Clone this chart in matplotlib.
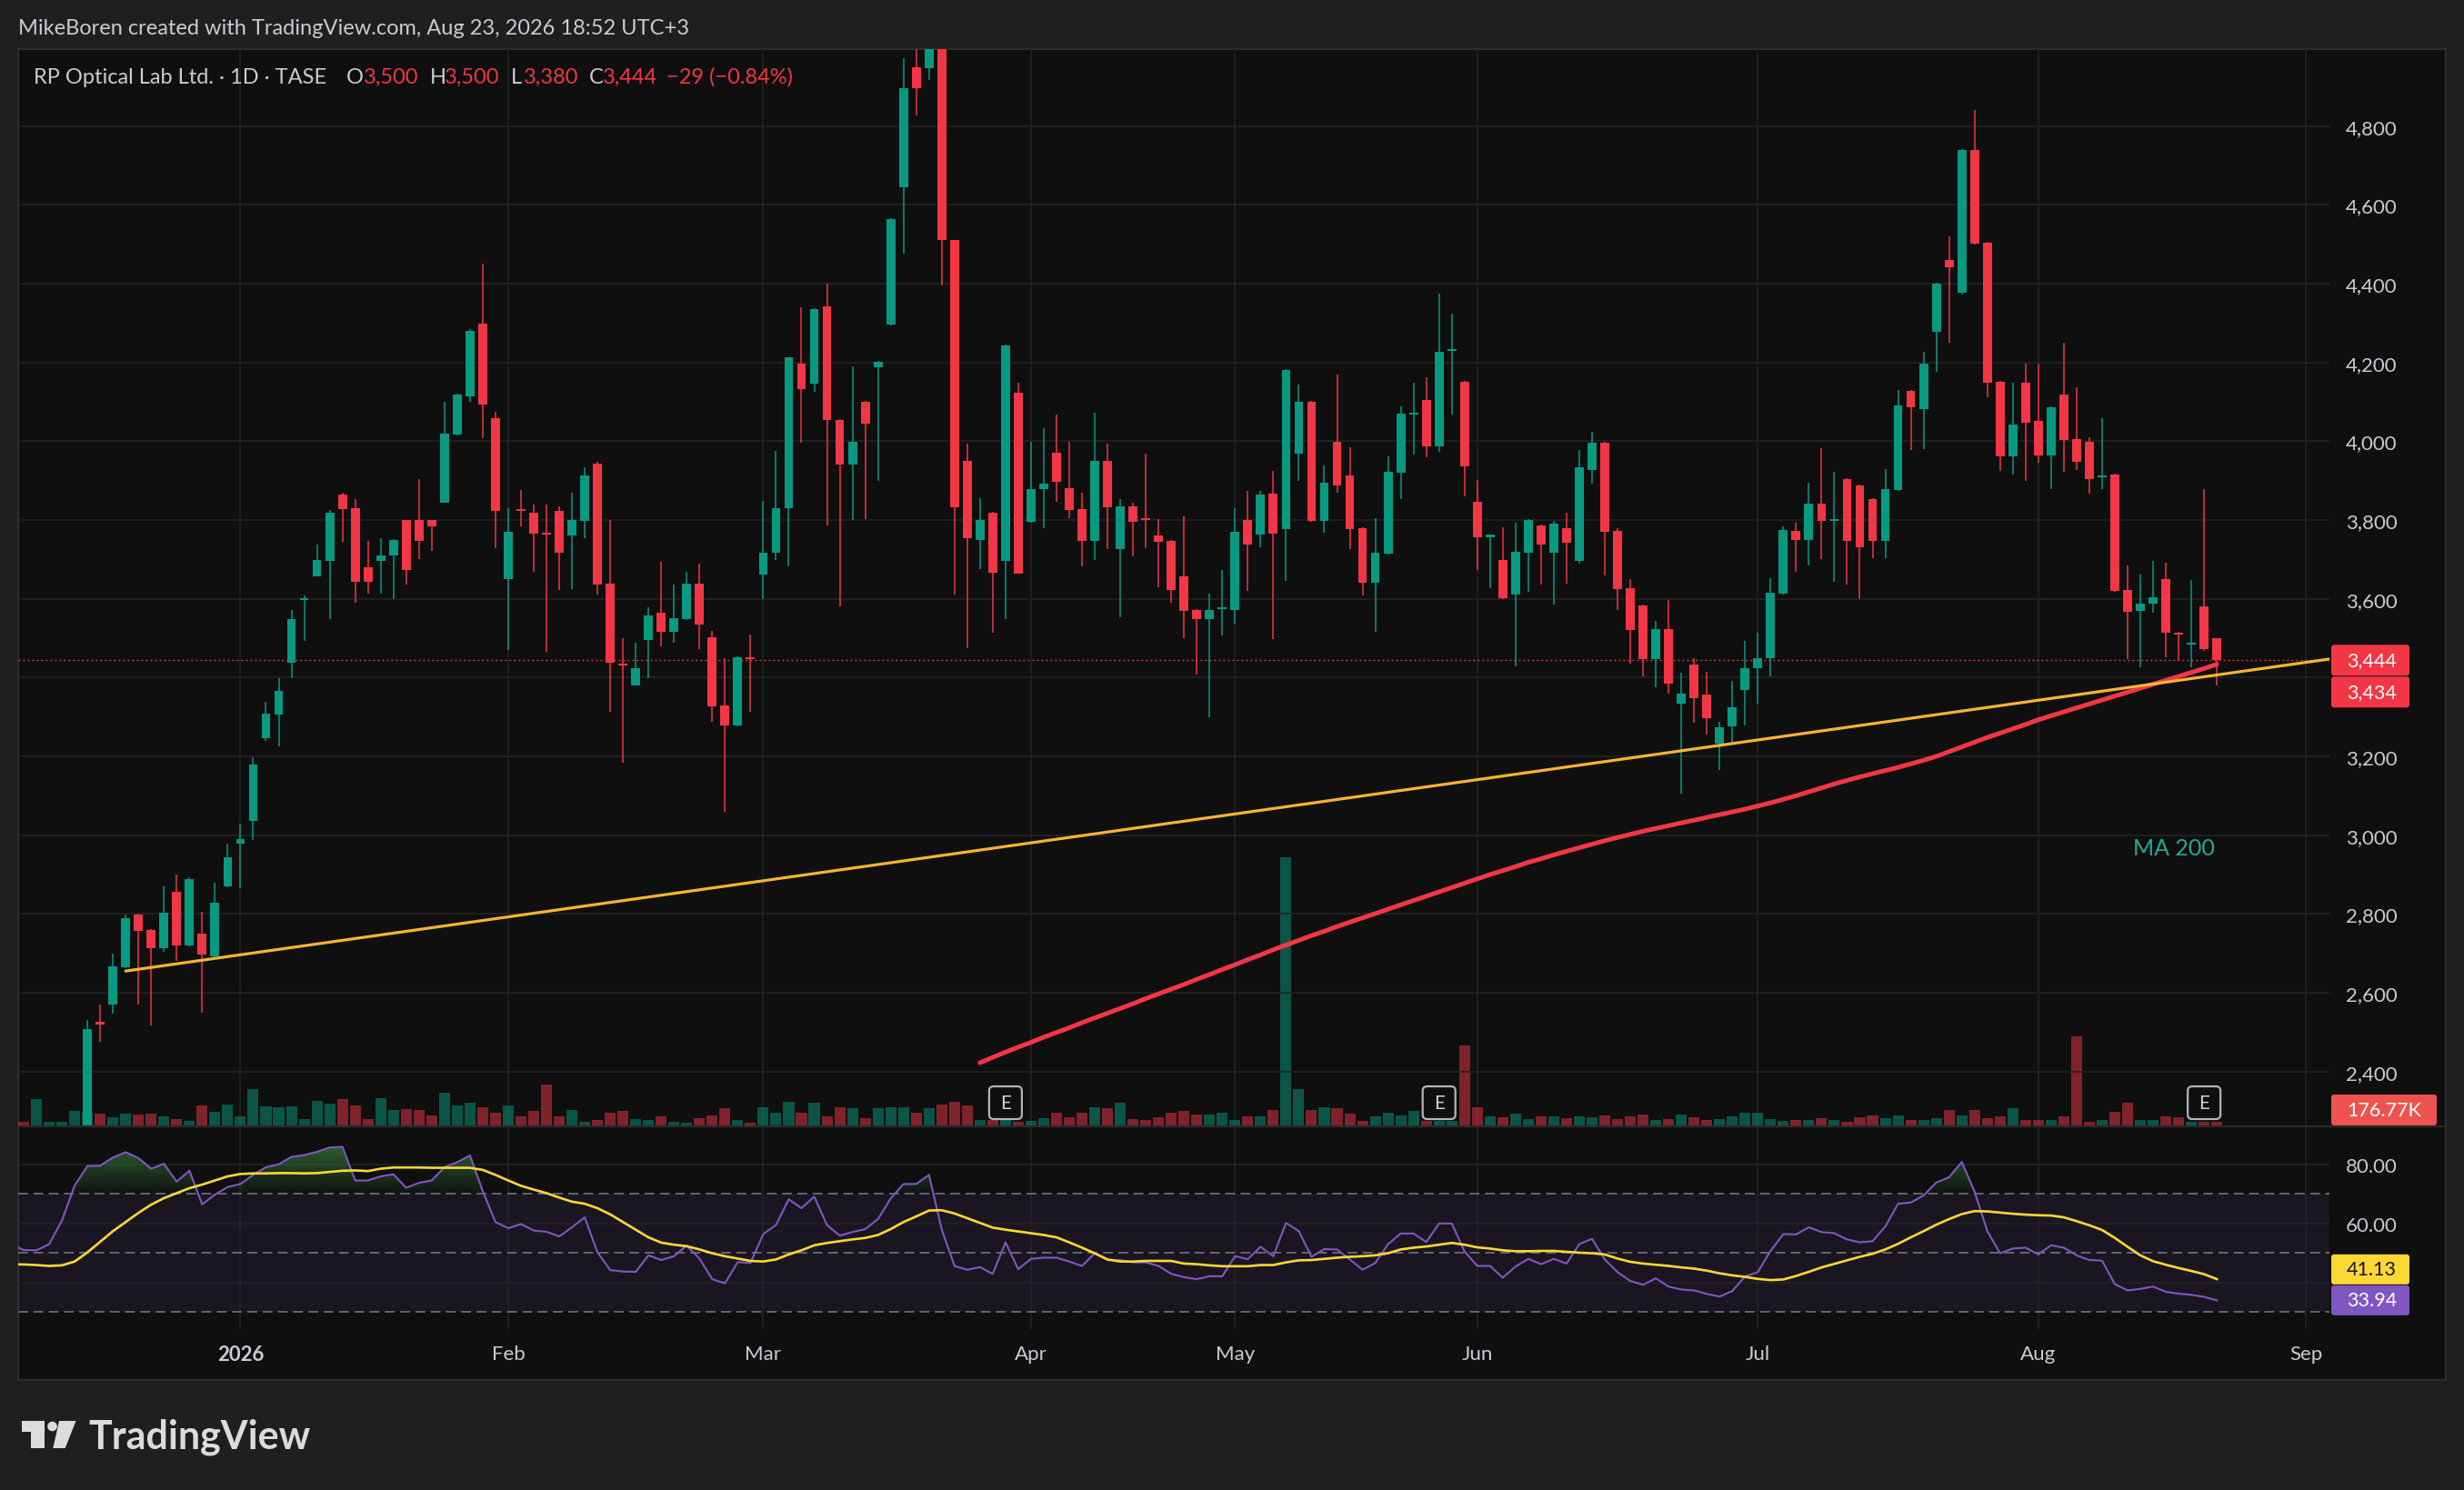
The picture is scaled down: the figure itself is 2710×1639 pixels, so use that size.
"""RP Optical Lab Ltd. daily chart (TradingView dark snapshot): candles, volume, MA 200, trendline, RSI."""

from __future__ import annotations

import matplotlib

matplotlib.use("Agg")
import matplotlib.pyplot as plt
import numpy as np
from matplotlib.colors import to_rgb
from matplotlib.patches import Circle, FancyBboxPatch, Polygon, Rectangle
from matplotlib.path import Path

W, H, DPI = 2710, 1640, 100

# ---- data; bar 0 is the first visible candle (late Dec 2025) ----
candle_open = [
    2240, 2524, 2570, 2665, 2799, 2760, 2712, 2857, 2720, 2751,
    2693, 2869, 2978, 3035, 3247, 3305, 3438, 3597, 3658, 3697,
    3864, 3829, 3679, 3697, 3709, 3799, 3799, 3799, 3845, 4017,
    4115, 4298, 4058, 3649, 3826, 3818, 3765, 3824, 3761, 3797,
    3944, 3639, 3435, 3381, 3496, 3565, 3517, 3548, 3639, 3503,
    3330, 3279, 3450, 3661, 3717, 3830, 4198, 4146, 4343, 4055,
    3940, 4101, 4188, 4296, 4645, 4950, 4946, 5020, 4510, 3951,
    3749, 3818, 3696, 4123, 3796, 3878, 3970, 3881, 3827, 3747,
    3951, 3726, 3834, 3803, 3761, 3747, 3656, 3572, 3548, 3574,
    3572, 3801, 3763, 3867, 3776, 3968, 4101, 3797, 3998, 3912,
    3780, 3640, 3714, 3919, 4068, 4104, 3987, 4230, 4151, 3846,
    3757, 3698, 3611, 3717, 3787, 3717, 3780, 3696, 3926, 3996,
    3773, 3626, 3583, 3447, 3524, 3334, 3433, 3358, 3232, 3276,
    3368, 3424, 3449, 3613, 3773, 3749, 3841, 3798, 3904, 3888,
    3853, 3747, 3876, 4127, 4082, 4277, 4460, 4376, 4739, 4504,
    4151, 3961, 4148, 4052, 3965, 4118, 4005, 3998, 3909, 3916,
    3623, 3569, 3588, 3651, 3515, 3484, 3581, 3500,
]
candle_high = [
    2531, 2569, 2700, 2799, 2800, 2762, 2870, 2901, 2893, 2806,
    2879, 2979, 3029, 3198, 3339, 3399, 3572, 3608, 3738, 3826,
    3870, 3854, 3746, 3754, 3751, 3801, 3905, 3801, 4099, 4120,
    4284, 4452, 4075, 3829, 3877, 3839, 3839, 3834, 3869, 3933,
    3947, 3801, 3501, 3489, 3579, 3694, 3637, 3668, 3689, 3518,
    3449, 3454, 3510, 3848, 3975, 4214, 4340, 4338, 4401, 4057,
    4190, 4103, 4204, 4567, 4973, 5000, 5040, 5060, 4512, 3994,
    3855, 3820, 4246, 4148, 3998, 4033, 4068, 3998, 3869, 4073,
    3994, 3853, 3844, 3968, 3803, 3749, 3810, 3574, 3613, 3674,
    3830, 3874, 3874, 3925, 4183, 4144, 4103, 3939, 4169, 3984,
    3782, 3804, 3961, 4089, 4148, 4162, 4375, 4324, 4153, 3902,
    3763, 3782, 3794, 3803, 3789, 3797, 3818, 3977, 4024, 3998,
    3780, 3651, 3585, 3545, 3597, 3412, 3449, 3415, 3288, 3391,
    3494, 3515, 3653, 3783, 3794, 3895, 3982, 3923, 3906, 3890,
    3855, 3930, 4130, 4129, 4226, 4403, 4519, 4741, 4840, 4506,
    4153, 4148, 4197, 4197, 4089, 4251, 4137, 4010, 4059, 3918,
    3684, 3661, 3696, 3691, 3517, 3647, 3879, 3500,
]
candle_low = [
    2225, 2476, 2546, 2662, 2570, 2518, 2704, 2681, 2718, 2550,
    2691, 2867, 2866, 2988, 3240, 3225, 3399, 3493, 3656, 3548,
    3745, 3591, 3614, 3614, 3599, 3637, 3700, 3722, 3843, 4015,
    4100, 4007, 3728, 3471, 3784, 3668, 3466, 3623, 3625, 3754,
    3611, 3312, 3184, 3379, 3398, 3480, 3489, 3546, 3473, 3288,
    3060, 3277, 3313, 3599, 3698, 3682, 3996, 4125, 3787, 3581,
    3801, 3803, 3899, 4294, 4477, 4826, 4917, 4395, 3611, 3475,
    3675, 3513, 3548, 3663, 3794, 3780, 3846, 3804, 3682, 3698,
    3726, 3553, 3708, 3729, 3630, 3590, 3501, 3408, 3299, 3508,
    3538, 3620, 3731, 3497, 3646, 3899, 3795, 3768, 3869, 3726,
    3609, 3517, 3712, 3853, 3966, 3960, 3973, 4068, 3860, 3674,
    3626, 3600, 3428, 3618, 3637, 3586, 3639, 3689, 3893, 3660,
    3572, 3436, 3402, 3375, 3360, 3105, 3286, 3255, 3166, 3231,
    3279, 3334, 3402, 3611, 3668, 3684, 3701, 3644, 3637, 3599,
    3703, 3703, 3874, 3977, 3980, 4176, 4251, 4373, 4500, 4111,
    3925, 3916, 3899, 3946, 3878, 3923, 3926, 3867, 3878, 3617,
    3447, 3426, 3565, 3452, 3443, 3426, 3468, 3380,
]
candle_close = [
    2508, 2520, 2668, 2790, 2758, 2712, 2803, 2720, 2889, 2697,
    2829, 2944, 2990, 3179, 3308, 3366, 3548, 3601, 3698, 3818,
    3828, 3642, 3642, 3709, 3749, 3672, 3748, 3784, 4019, 4118,
    4281, 4094, 3824, 3771, 3822, 3766, 3762, 3717, 3801, 3912,
    3637, 3438, 3431, 3424, 3558, 3517, 3551, 3639, 3534, 3327,
    3279, 3452, 3447, 3717, 3830, 4212, 4132, 4336, 4054, 3940,
    3998, 4045, 4202, 4565, 4896, 4896, 5010, 4510, 3832, 3755,
    3801, 3667, 4244, 3665, 3879, 3893, 3897, 3825, 3747, 3951,
    3832, 3834, 3796, 3799, 3745, 3623, 3569, 3548, 3572, 3578,
    3769, 3738, 3865, 3766, 4181, 4101, 3797, 3895, 3888, 3776,
    3640, 3717, 3923, 4069, 4072, 3987, 4226, 4234, 3937, 3756,
    3761, 3602, 3719, 3801, 3738, 3790, 3742, 3933, 3996, 3769,
    3625, 3520, 3447, 3524, 3384, 3360, 3347, 3297, 3273, 3325,
    3424, 3449, 3616, 3775, 3750, 3841, 3797, 3802, 3747, 3731,
    3747, 3879, 4090, 4087, 4197, 4401, 4441, 4739, 4502, 4148,
    3961, 4043, 4047, 3965, 4087, 4003, 3947, 3905, 3912, 3619,
    3567, 3588, 3604, 3515, 3510, 3489, 3473, 3444,
]

# volume in thousands of shares; five earlier bars whose candles sit below the visible range
pre_volume_k = [205, 1350, 205, 205, 763]
pre_volume_up = [False, True, True, True, True]
volume_k = [
    645, 616, 411, 616, 557, 616, 469, 323, 235, 1027,
    704, 1086, 469, 1878, 968, 939, 968, 323, 1262, 1115,
    1350, 1027, 323, 1408, 792, 851, 792, 528, 1672, 1027,
    1174, 939, 645, 1027, 445, 738, 2074, 457, 808, 176,
    281, 668, 738, 316, 281, 457, 176, 141, 352, 527,
    879, 281, 141, 949, 633, 1230, 668, 1160, 457, 914,
    879, 352, 879, 949, 949, 668, 879, 1090, 1230, 1019,
    281, 281, 281, 176, 211, 352, 633, 422, 633, 949,
    879, 1160, 316, 281, 422, 668, 738, 562, 562, 633,
    281, 457, 457, 808, 13709, 1863, 773, 949, 879, 598,
    211, 457, 633, 492, 738, 246, 246, 246, 4077, 949,
    457, 422, 598, 316, 457, 457, 352, 457, 422, 492,
    316, 457, 562, 281, 316, 562, 422, 281, 316, 457,
    668, 668, 316, 211, 281, 281, 352, 281, 176, 422,
    492, 352, 492, 281, 281, 352, 773, 492, 808, 352,
    457, 879, 281, 281, 281, 457, 4534, 176, 281, 703,
    1160, 281, 281, 457, 422, 176, 176, 176.77,
]

ma200_start = 70
ma200 = [
    2422, 2436, 2449, 2462, 2474, 2487, 2499, 2511, 2524, 2536,
    2548, 2560, 2572, 2585, 2597, 2609, 2621, 2634, 2646, 2659,
    2671, 2684, 2696, 2709, 2721, 2733, 2745, 2756, 2768, 2779,
    2790, 2801, 2812, 2823, 2834, 2845, 2856, 2867, 2878, 2889,
    2900, 2910, 2920, 2931, 2940, 2950, 2959, 2968, 2977, 2986,
    2994, 3002, 3010, 3017, 3024, 3031, 3038, 3045, 3052, 3059,
    3066, 3074, 3082, 3091, 3100, 3110, 3120, 3130, 3139, 3148,
    3156, 3164, 3172, 3181, 3190, 3200, 3212, 3224, 3236, 3248,
    3259, 3270, 3281, 3293, 3303, 3313, 3323, 3333, 3343, 3353,
    3363, 3373, 3383, 3393, 3403, 3413, 3423, 3434,
]

trend_x = [3, 175.8]
trend_y = [2655, 3447]

rsi_start = -6
rsi = [
    53.0, 51.0, 50.9, 53.0, 61.0, 72.9, 79.5, 79.6, 82.4, 84.2,
    82.2, 78.6, 80.3, 74.2, 77.9, 66.5, 69.8, 72.4, 73.4, 76.5,
    79.1, 80.1, 82.6, 83.2, 84.3, 85.8, 86.0, 74.6, 74.6, 76.0,
    76.7, 72.1, 73.8, 74.6, 79.1, 80.8, 83.1, 71.0, 60.5, 58.4,
    59.8, 57.6, 57.2, 55.6, 58.7, 62.1, 50.2, 44.2, 43.7, 43.6,
    49.2, 47.6, 48.9, 52.5, 48.1, 41.1, 39.7, 46.9, 46.6, 56.4,
    59.5, 68.2, 65.2, 69.1, 59.5, 55.9, 57.1, 58.1, 61.5, 68.5,
    73.4, 73.4, 76.5, 57.9, 45.6, 44.3, 45.2, 42.9, 53.6, 44.5,
    48.0, 48.4, 48.4, 47.1, 45.6, 49.9, 47.6, 47.6, 46.8, 46.8,
    45.6, 42.9, 41.8, 41.1, 42.1, 42.1, 48.9, 47.9, 52.1, 48.9,
    60.2, 57.4, 48.7, 51.3, 51.2, 47.8, 44.3, 46.6, 53.0, 56.6,
    56.6, 53.7, 60.0, 60.0, 50.5, 45.6, 45.6, 41.6, 45.4, 48.0,
    46.2, 48.0, 46.4, 53.0, 54.8, 47.8, 43.5, 40.5, 39.2, 41.4,
    38.6, 37.6, 37.3, 36.1, 35.2, 37.1, 42.0, 43.5, 50.7, 56.4,
    56.3, 58.7, 57.1, 56.7, 54.6, 53.6, 54.0, 59.0, 66.7, 67.1,
    69.5, 73.9, 75.7, 80.9, 70.8, 57.4, 49.9, 51.5, 51.8, 49.5,
    52.6, 51.8, 49.2, 47.6, 47.4, 39.4, 37.3, 37.8, 38.6, 36.8,
    36.2, 35.8, 35.1, 33.94,
]
rsi_ma = [
    46.2, 46.1, 45.9, 45.6, 45.8, 47.1, 50.2, 53.8, 57.4, 60.5,
    63.6, 66.4, 68.6, 70.3, 72.0, 73.2, 74.6, 76.0, 76.8, 77.0,
    77.0, 77.1, 77.1, 77.0, 77.1, 77.5, 77.9, 78.0, 77.8, 78.6,
    79.0, 79.0, 79.0, 78.9, 78.9, 78.9, 78.9, 78.2, 76.5, 74.6,
    72.8, 71.5, 70.3, 68.8, 67.4, 66.7, 65.2, 63.1, 60.5, 57.9,
    55.3, 53.5, 52.8, 52.3, 51.2, 49.9, 48.9, 48.1, 47.3, 47.1,
    47.8, 49.5, 50.9, 52.6, 53.4, 54.0, 54.6, 55.1, 56.1, 58.1,
    60.5, 62.4, 64.4, 64.5, 63.4, 61.8, 60.2, 58.6, 57.9, 57.3,
    56.7, 56.1, 55.3, 53.6, 51.8, 49.9, 47.8, 47.1, 47.1, 47.3,
    47.3, 47.3, 46.4, 46.2, 45.8, 45.5, 45.5, 45.5, 45.9, 45.9,
    46.8, 47.5, 47.6, 48.0, 48.4, 48.7, 48.9, 49.2, 49.9, 51.2,
    51.8, 52.2, 52.8, 53.4, 52.8, 51.9, 51.5, 50.9, 50.6, 50.6,
    50.7, 50.7, 50.4, 50.1, 49.9, 49.5, 48.1, 47.0, 46.4, 46.0,
    45.6, 45.1, 44.7, 44.0, 43.1, 42.4, 41.9, 41.2, 40.8, 41.0,
    42.2, 43.6, 45.1, 46.3, 47.5, 48.7, 49.7, 51.2, 53.1, 55.3,
    57.4, 59.6, 61.5, 63.2, 64.2, 64.1, 63.7, 63.3, 63.0, 62.8,
    62.7, 62.1, 60.8, 59.4, 57.8, 55.1, 52.1, 49.2, 47.2, 46.0,
    44.9, 43.9, 42.8, 41.13,
]

earnings_bars = [72, 106, 166]
month_pos = [12, 33, 53, 74, 90, 109, 131, 153, 174]
month_labels = ["2026", "Feb", "Mar", "Apr", "May", "Jun", "Jul", "Aug", "Sep"]
price_ticks = [2400, 2600, 2800, 3000, 3200, 3400, 3600, 3800, 4000, 4200, 4400, 4600, 4800]
rsi_ticks = [40, 60, 80]
rsi_bands = [70, 50, 30]

header = "MikeBoren created with TradingView.com, Aug 23, 2026 18:52 UTC+3"
symbol_text = "RP Optical Lab Ltd. · 1D · TASE"

# ---- style / layout (pixel positions in the 2710x1640 canvas) ----
UP, DOWN = "#089981", "#f23645"
BG_OUT, BG_PANE = "#1f1f1f", "#0f0f0f"
GRID = "#232323"
TEXT = "#c9ccd4"
RSI_COL, RSI_MA_COL = "#7e57c2", "#fdd835"
TREND_COL = "#f7b52c"
MA_LABEL_COL = "#22ab94"

PLOT_L, PLOT_R, FRAME_R = 20, 2562, 2690
PRICE_T, PRICE_B = 55, 1239
RSI_T, RSI_B = 1241, 1463
FRAME_B = 1519
Y_TOP, Y_BOT = 4995.5, 2263.0
RSI_TOP, RSI_BOT = 92.65, 24.17
XMIN, XMAX = -5.43, 175.83
VOL_AXIS_TOP_K = 55000
TAG_H = 34

plt.rcParams["font.family"] = ["Lato", "DejaVu Sans"]


def px_rect(x0, y0, x1, y1):
    return [x0 / W, 1 - y1 / H, (x1 - x0) / W, (y1 - y0) / H]


def price_to_px(p):
    return PRICE_T + (Y_TOP - p) / (Y_TOP - Y_BOT) * (PRICE_B - PRICE_T)


def rsi_to_px(v):
    return RSI_T + (RSI_TOP - v) / (RSI_TOP - RSI_BOT) * (RSI_B - RSI_T)


def bar_to_px(i):
    return PLOT_L + (i - XMIN) / (XMAX - XMIN) * (PLOT_R - PLOT_L)


def price_tag_rows():
    """Pixel centres of the two stacked tags (last close, MA 200) on the price scale."""
    y_last = price_to_px(candle_close[-1])
    return [y_last, y_last + TAG_H + 1]


def rsi_tag_rows():
    y_rsi = rsi_to_px(rsi[-1])
    y_ma = min(rsi_to_px(rsi_ma[-1]), y_rsi - TAG_H)
    return [y_ma, y_rsi]


def visible_labels(ticks, to_px, rows, fmt):
    # the scale hides tick labels that sit under a value tag
    out = []
    for v in ticks:
        hidden = any(abs(to_px(v) - r) < TAG_H / 2 + 12 for r in rows)
        out.append("" if hidden else fmt(v))
    return out


def scale_box(ov, y_center, text, face, fg, x1=2650, h=TAG_H):
    ov.add_patch(FancyBboxPatch((2564, y_center - h / 2), x1 - 2564, h,
                                boxstyle="round,pad=0,rounding_size=3", fc=face, ec="none"))
    ov.text(2581, y_center, text, color=fg, fontsize=15.5, va="center", ha="left")


def style_axes(ax):
    ax.set_facecolor("none")
    for s in ax.spines.values():
        s.set_visible(False)


def draw_price(ax, ax_vol):
    o, h = np.asarray(candle_open, float), np.asarray(candle_high, float)
    l, c = np.asarray(candle_low, float), np.asarray(candle_close, float)
    idx = np.arange(len(c))
    up = c >= o
    colors = np.where(up, UP, DOWN)

    # volume behind everything
    vol = np.concatenate([pre_volume_k, volume_k])
    vol_idx = np.arange(-len(pre_volume_k), len(volume_k))
    vol_up = np.concatenate([pre_volume_up, up])
    ax_vol.bar(vol_idx, vol, width=0.86, color=np.where(vol_up, UP, DOWN), alpha=0.5, lw=0)
    ax_vol.set_ylim(0, VOL_AXIS_TOP_K)
    ax_vol.set_yticks([])
    ax_vol.tick_params(axis="x", length=0, labelbottom=False)

    ax.vlines(idx, l, h, colors=colors, lw=1.1, zorder=3)
    body_low = np.minimum(o, c)
    body_h = np.maximum(np.abs(c - o), 5)
    ax.bar(idx, body_h, bottom=body_low, width=0.7, color=colors, lw=0, zorder=4)

    ax.axhline(c[-1], color=DOWN, lw=1.0, ls=(0, (1.3, 2.3)), zorder=2)
    ma_idx = np.arange(ma200_start, ma200_start + len(ma200))
    ax.plot(ma_idx, ma200, color=DOWN, lw=3.6, solid_capstyle="round", zorder=6)
    ax.plot(trend_x, trend_y, color=TREND_COL, lw=2.3, solid_capstyle="round", zorder=6)
    ax.text(163.6, 2969, "MA 200", color=MA_LABEL_COL, fontsize=18, ha="center", va="center")

    for y in price_ticks:
        ax.axhline(y, color=GRID, lw=1.2, zorder=0)
    for x in month_pos:
        ax_vol.axvline(x, color=GRID, lw=1.2, zorder=0)

    ax.set_xlim(XMIN, XMAX)
    ax.set_ylim(Y_BOT, Y_TOP)
    ax.yaxis.tick_right()
    labels = visible_labels(price_ticks, price_to_px, price_tag_rows(), lambda v: f"{v:,}")
    ax.set_yticks(price_ticks, labels)
    ax.tick_params(axis="y", length=0, pad=13, labelsize=16, labelcolor=TEXT)
    ax.tick_params(axis="x", length=0, labelbottom=False)


def draw_rsi(ax):
    x = np.arange(rsi_start, rsi_start + len(rsi))
    r = np.asarray(rsi)
    ax.axhspan(30, 70, color=RSI_COL, alpha=0.1, lw=0, zorder=0)
    for y in rsi_ticks:
        ax.axhline(y, color=GRID, lw=1.2, zorder=0)
    for xm in month_pos:
        ax.axvline(xm, color=GRID, lw=1.2, zorder=0)
    for y in rsi_bands:
        ax.axhline(y, color="#787b86", lw=1.1, ls=(0, (7, 4)), zorder=1)

    # overbought gradient fill above 70
    fill = ax.fill_between(x, r, 70, where=r > 70, interpolate=True, color="none", lw=0)
    clip = Path.make_compound_path(*fill.get_paths())
    grad = np.zeros((64, 1, 4))
    grad[..., :3] = to_rgb("#43a047")
    grad[:, 0, 3] = np.linspace(0.04, 0.6, 64)
    im = ax.imshow(grad, extent=(XMIN, XMAX, 70, 88), origin="lower", aspect="auto", zorder=2)
    im.set_clip_path(clip, transform=ax.transData)

    ax.plot(x, r, color=RSI_COL, lw=1.5, zorder=4)
    ax.plot(x, rsi_ma, color=RSI_MA_COL, lw=1.9, zorder=5)

    ax.set_xlim(XMIN, XMAX)
    ax.set_ylim(RSI_BOT, RSI_TOP)
    ax.yaxis.tick_right()
    labels = visible_labels(rsi_ticks, rsi_to_px, rsi_tag_rows(), lambda v: f"{v:.2f}")
    ax.set_yticks(rsi_ticks, labels)
    ax.tick_params(axis="y", length=0, pad=13, labelsize=16, labelcolor=TEXT)
    ax.set_xticks(month_pos, month_labels)
    ax.tick_params(axis="x", length=0, pad=12, labelsize=16, labelcolor=TEXT)
    ax.get_xticklabels()[0].set_fontweight("bold")


def draw_overlay(ov):
    ov.text(20, 31, header, color=TEXT, fontsize=17, va="center", ha="left")

    # legend: symbol and OHLC of the last bar
    gray, red = "#c9ccd4", DOWN
    o, h, l, c = candle_open[-1], candle_high[-1], candle_low[-1], candle_close[-1]
    chg = c - candle_close[-2]
    pct = abs(chg) / candle_close[-2] * 100
    pieces = [
        (37, symbol_text, gray), (381, "O", gray), (400, f"{o:,}", red),
        (473, "H", gray), (489, f"{h:,}", red), (562, "L", gray), (576, f"{l:,}", red),
        (648, "C", gray), (663, f"{c:,}", red),
        (733, f"−{abs(chg)} (−{pct:.2f}%)", red),
    ]
    for xp, s, col in pieces:
        ov.text(xp, 85, s, color=col, fontsize=17, va="center", ha="left")

    # pane separator
    ov.plot([PLOT_L, FRAME_R], [1240, 1240], color="#2b2b2b", lw=1.6)

    # price scale tags: last close and MA 200, then last volume
    y_last, y_ma200 = price_tag_rows()
    scale_box(ov, y_last, f"{candle_close[-1]:,}", DOWN, "white")
    scale_box(ov, y_ma200, f"{ma200[-1]:,}", DOWN, "white")
    scale_box(ov, PRICE_B - 17, f"{volume_k[-1]:.2f}K", "#ef5350", "white", x1=2680)

    # RSI tags (MA tag pushed above the RSI tag)
    y_ma, y_rsi = rsi_tag_rows()
    scale_box(ov, y_ma, f"{rsi_ma[-1]:.2f}", RSI_MA_COL, "#131722", h=33)
    scale_box(ov, y_rsi, f"{rsi[-1]:.2f}", RSI_COL, "white", h=33)

    # earnings markers
    for b in earnings_bars:
        xc = bar_to_px(b)
        ov.add_patch(FancyBboxPatch((xc - 18, 1196), 36, 36, boxstyle="round,pad=0,rounding_size=5",
                                    fc=BG_PANE, ec="#b2b5be", lw=1.6))
        ov.text(xc, 1214.5, "E", color="#d1d4dc", fontsize=15, ha="center", va="center")

    # TradingView logo
    logo = "#dcdcdc"
    ov.add_patch(Rectangle((24, 1564), 25, 12, fc=logo, ec="none"))
    ov.add_patch(Rectangle((33.5, 1564), 15.5, 30, fc=logo, ec="none"))
    ov.add_patch(Circle((57.5, 1570), 5.3, fc=logo, ec="none"))
    ov.add_patch(Polygon([(65, 1564), (83.5, 1564), (71.7, 1594), (58.3, 1594)], fc=logo, ec="none"))
    ov.text(97, 1594, "TradingView", color=logo, fontsize=31, fontweight="bold", ha="left", va="baseline")


def main() -> int:
    fig = plt.figure(figsize=(W / DPI, H / DPI), dpi=DPI)
    fig.patch.set_facecolor(BG_OUT)

    under = fig.add_axes([0, 0, 1, 1], zorder=-10)
    under.set_xlim(0, W)
    under.set_ylim(H, 0)
    under.axis("off")
    under.add_patch(Rectangle((PLOT_L, PRICE_T), FRAME_R - PLOT_L, FRAME_B - PRICE_T,
                              fc=BG_PANE, ec="#2e2e2e", lw=1.5))

    ax_vol = fig.add_axes(px_rect(PLOT_L, PRICE_T, PLOT_R, PRICE_B), zorder=1)
    ax = fig.add_axes(px_rect(PLOT_L, PRICE_T, PLOT_R, PRICE_B), zorder=2, sharex=ax_vol)
    ax_rsi = fig.add_axes(px_rect(PLOT_L, RSI_T, PLOT_R, RSI_B), zorder=2)
    for a in (ax_vol, ax, ax_rsi):
        style_axes(a)

    draw_price(ax, ax_vol)
    draw_rsi(ax_rsi)

    ov = fig.add_axes([0, 0, 1, 1], zorder=10)
    ov.set_xlim(0, W)
    ov.set_ylim(H, 0)
    ov.axis("off")
    draw_overlay(ov)

    fig.savefig("out.png", dpi=DPI, facecolor=BG_OUT)
    plt.close(fig)
    return 0


if __name__ == "__main__":
    raise SystemExit(main())
